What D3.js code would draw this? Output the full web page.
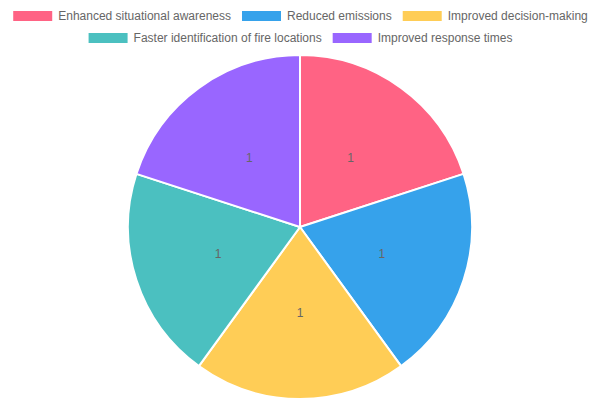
<!DOCTYPE html>
<html><head><meta charset="utf-8">
<script src="https://cdn.jsdelivr.net/npm/d3@7"></script>
<style>body{margin:0;background:#fff}svg{display:block}</style>
</head><body>
<svg id="c" width="600" height="400"></svg>
<script>
const categories = ["Enhanced situational awareness","Reduced emissions","Improved decision-making","Faster identification of fire locations","Improved response times"];
const values = [1,1,1,1,1];
const colors = ["rgb(255,99,132)","rgb(54,162,235)","rgb(255,205,86)","rgb(75,192,192)","rgb(153,102,255)"];
const legendRows = [[0,1,2],[3,4]];

const svg = d3.select("#c");
const font = "Liberation Sans, Arial, Helvetica, sans-serif";

// legend
const rowY = [16, 38];
legendRows.forEach((row, ri) => {
  const g = svg.append("g");
  let x = 0;
  row.forEach((i, k) => {
    const item = g.append("g").attr("transform", `translate(${x},0)`);
    item.append("rect").attr("x",0).attr("y",rowY[ri]-5).attr("width",39).attr("height",10)
      .attr("fill",colors[i]);
    const t = item.append("text").attr("x",45).attr("y",rowY[ri]).attr("dy","0.35em")
      .attr("font-family",font).attr("font-size",12).attr("fill","#666").text(categories[i]);
    const w = t.node().getComputedTextLength();
    x += 45 + w + 11;
  });
  const total = x - 11;
  g.attr("transform", `translate(${(600-total)/2 + 0.5},0)`);
});

// pie
const cx = 300, cy = 227, r = 172;
const pie = d3.pie().sort(null).value(d => d);
const arcs = pie(values);
const arc = d3.arc().innerRadius(0).outerRadius(r);
const labelArc = d3.arc().innerRadius(r/2).outerRadius(r/2);
const pg = svg.append("g").attr("transform", `translate(${cx},${cy})`);
pg.selectAll("path").data(arcs).join("path")
  .attr("d", arc).attr("fill", (d,i) => colors[i])
  .attr("stroke","#fff").attr("stroke-width",2).attr("stroke-linejoin","round");
pg.selectAll("text").data(arcs).join("text")
  .attr("transform", d => `translate(${labelArc.centroid(d)})`)
  .attr("text-anchor","middle").attr("dy","0.35em")
  .attr("font-family",font).attr("font-size",12).attr("fill","#666")
  .text(d => d.data);
</script>
</body></html>
